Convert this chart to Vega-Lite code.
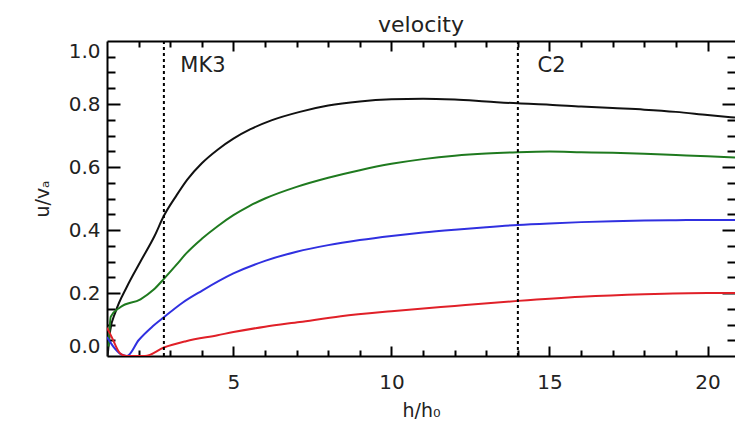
{
  "$schema": "https://vega.github.io/schema/vega-lite/v6.json",
  "width": 628,
  "height": 315,
  "autosize": "none",
  "padding": {"left": 107, "top": 41, "right": 0, "bottom": 69},
  "background": "white",
  "config": {
    "view": {"stroke": null},
    "axis": {
      "labelFont": "DejaVu Sans", "labelFontSize": 20, "labelColor": "#222",
      "titleFont": "DejaVu Sans", "titleFontSize": 19, "titleFontWeight": "normal", "titleColor": "#222",
      "domainColor": "#000", "domainWidth": 2, "tickColor": "#000", "tickWidth": 2, "grid": false
    }
  },
  "title": {"text": "velocity", "font": "DejaVu Sans", "fontSize": 22, "fontWeight": "normal", "color": "#222", "offset": 10, "baseline": "alphabetic", "dy": 24},
  "datasets": {
    "curves": [
      {"s": "black", "h": 1.02, "u": 0.0}, {"s": "black", "h": 1.1, "u": 0.08}, {"s": "black", "h": 1.27, "u": 0.14}, {"s": "black", "h": 1.63, "u": 0.22}, {"s": "black", "h": 2.06, "u": 0.3}, {"s": "black", "h": 2.5, "u": 0.38}, {"s": "black", "h": 2.8, "u": 0.445}, {"s": "black", "h": 3.2, "u": 0.51}, {"s": "black", "h": 3.54, "u": 0.56}, {"s": "black", "h": 4.0, "u": 0.612}, {"s": "black", "h": 4.5, "u": 0.655}, {"s": "black", "h": 5.0, "u": 0.69}, {"s": "black", "h": 5.54, "u": 0.72}, {"s": "black", "h": 6.2, "u": 0.748}, {"s": "black", "h": 7.1, "u": 0.775}, {"s": "black", "h": 8, "u": 0.795}, {"s": "black", "h": 9, "u": 0.808}, {"s": "black", "h": 10, "u": 0.815}, {"s": "black", "h": 11, "u": 0.817}, {"s": "black", "h": 12, "u": 0.814}, {"s": "black", "h": 13, "u": 0.808}, {"s": "black", "h": 14, "u": 0.802}, {"s": "black", "h": 15, "u": 0.798}, {"s": "black", "h": 16, "u": 0.792}, {"s": "black", "h": 17, "u": 0.787}, {"s": "black", "h": 18, "u": 0.782}, {"s": "black", "h": 19, "u": 0.775}, {"s": "black", "h": 20, "u": 0.765}, {"s": "black", "h": 20.87, "u": 0.757},
      {"s": "green", "h": 1.05, "u": 0.03}, {"s": "green", "h": 1.12, "u": 0.125}, {"s": "green", "h": 1.42, "u": 0.155}, {"s": "green", "h": 2.06, "u": 0.18}, {"s": "green", "h": 2.47, "u": 0.21}, {"s": "green", "h": 2.8, "u": 0.245}, {"s": "green", "h": 3.2, "u": 0.29}, {"s": "green", "h": 3.5, "u": 0.325}, {"s": "green", "h": 4.0, "u": 0.372}, {"s": "green", "h": 4.5, "u": 0.412}, {"s": "green", "h": 5.0, "u": 0.447}, {"s": "green", "h": 5.5, "u": 0.476}, {"s": "green", "h": 6.0, "u": 0.5}, {"s": "green", "h": 7.0, "u": 0.537}, {"s": "green", "h": 8, "u": 0.566}, {"s": "green", "h": 9, "u": 0.59}, {"s": "green", "h": 10, "u": 0.61}, {"s": "green", "h": 11, "u": 0.625}, {"s": "green", "h": 12, "u": 0.636}, {"s": "green", "h": 13, "u": 0.643}, {"s": "green", "h": 14, "u": 0.647}, {"s": "green", "h": 15, "u": 0.649}, {"s": "green", "h": 16, "u": 0.647}, {"s": "green", "h": 17, "u": 0.645}, {"s": "green", "h": 18, "u": 0.642}, {"s": "green", "h": 19, "u": 0.638}, {"s": "green", "h": 20, "u": 0.634}, {"s": "green", "h": 20.87, "u": 0.63},
      {"s": "blue", "h": 1.0, "u": 0.06}, {"s": "blue", "h": 1.2, "u": 0.03}, {"s": "blue", "h": 1.45, "u": 0.005}, {"s": "blue", "h": 1.63, "u": 0.0}, {"s": "blue", "h": 2.0, "u": 0.05}, {"s": "blue", "h": 2.4, "u": 0.09}, {"s": "blue", "h": 2.8, "u": 0.123}, {"s": "blue", "h": 3.4, "u": 0.17}, {"s": "blue", "h": 4.0, "u": 0.207}, {"s": "blue", "h": 5.0, "u": 0.262}, {"s": "blue", "h": 6.0, "u": 0.302}, {"s": "blue", "h": 7.0, "u": 0.331}, {"s": "blue", "h": 8.0, "u": 0.352}, {"s": "blue", "h": 9.0, "u": 0.368}, {"s": "blue", "h": 10, "u": 0.381}, {"s": "blue", "h": 11, "u": 0.392}, {"s": "blue", "h": 12, "u": 0.401}, {"s": "blue", "h": 13, "u": 0.409}, {"s": "blue", "h": 14, "u": 0.416}, {"s": "blue", "h": 15, "u": 0.421}, {"s": "blue", "h": 16, "u": 0.425}, {"s": "blue", "h": 17, "u": 0.428}, {"s": "blue", "h": 18, "u": 0.43}, {"s": "blue", "h": 19, "u": 0.431}, {"s": "blue", "h": 20, "u": 0.432}, {"s": "blue", "h": 20.87, "u": 0.432},
      {"s": "red", "h": 1.0, "u": 0.09}, {"s": "red", "h": 1.15, "u": 0.06}, {"s": "red", "h": 1.4, "u": 0.01}, {"s": "red", "h": 1.6, "u": 0.0}, {"s": "red", "h": 2.2, "u": 0.0}, {"s": "red", "h": 2.8, "u": 0.027}, {"s": "red", "h": 3.5, "u": 0.047}, {"s": "red", "h": 4.5, "u": 0.066}, {"s": "red", "h": 5.0, "u": 0.076}, {"s": "red", "h": 6.0, "u": 0.093}, {"s": "red", "h": 7.1, "u": 0.108}, {"s": "red", "h": 8.4, "u": 0.126}, {"s": "red", "h": 10, "u": 0.142}, {"s": "red", "h": 12, "u": 0.159}, {"s": "red", "h": 14, "u": 0.175}, {"s": "red", "h": 16, "u": 0.188}, {"s": "red", "h": 18, "u": 0.196}, {"s": "red", "h": 20, "u": 0.2}, {"s": "red", "h": 20.87, "u": 0.2}
    ],
    "marks": [
      {"h": 2.8, "label": "MK3", "lx": 3.32, "ly": 0.92},
      {"h": 14.0, "label": "C2", "lx": 14.62, "ly": 0.92}
    ]
  },
  "layer": [
    {
      "data": {"name": "curves"},
      "mark": {"type": "line", "strokeWidth": 2, "clip": true, "interpolate": "monotone"},
      "encoding": {
        "x": {"field": "h", "type": "quantitative", "scale": {"domain": [1, 20.87], "nice": false, "zero": false},
          "axis": {"orient": "bottom", "values": [5, 10, 15, 20], "ticks": false, "labelPadding": 16, "title": "h/h₀", "titlePadding": 9, "domain": true}},
        "y": {"field": "u", "type": "quantitative", "scale": {"domain": [0, 1], "nice": false, "zero": false},
          "axis": {"orient": "left", "values": [0, 0.2, 0.4, 0.6, 0.8, 1.0], "format": ".1f", "ticks": false, "labelPadding": 7, "labelFlush": true, "title": "u/vₐ", "titlePadding": 16, "domain": true}},
        "color": {"field": "s", "type": "nominal", "scale": {"domain": ["black", "green", "blue", "red"], "range": ["#111111", "#1f7a1f", "#3030e0", "#e02028"]}, "legend": null}
      }
    },
    {
      "data": {"name": "marks"},
      "mark": {"type": "rule", "color": "#000", "strokeWidth": 2, "strokeDash": [3, 3]},
      "encoding": {
        "x": {"field": "h", "type": "quantitative", "axis": {"orient": "bottom", "values": [5, 10, 15, 20], "tickSize": -10, "labels": false, "domain": false, "title": null}}
      }
    },
    {
      "data": {"name": "marks"},
      "mark": {"type": "text", "font": "DejaVu Sans", "fontSize": 21, "color": "#222", "align": "left", "baseline": "middle"},
      "encoding": {
        "x": {"field": "lx", "type": "quantitative", "axis": {"orient": "bottom", "values": [2, 3, 4, 6, 7, 8, 9, 11, 12, 13, 14, 16, 17, 18, 19], "tickSize": -6, "labels": false, "domain": false, "title": null}},
        "y": {"field": "ly", "type": "quantitative", "axis": {"orient": "left", "values": [0.2, 0.4, 0.6, 0.8], "tickSize": -13, "labels": false, "domain": false, "title": null}},
        "text": {"field": "label"}
      }
    },
    {
      "data": {"name": "curves"},
      "mark": {"type": "point", "opacity": 0},
      "encoding": {
        "x": {"field": "h", "type": "quantitative", "axis": {"orient": "top", "values": [5, 10, 15, 20], "tickSize": -10, "labels": false, "domain": true, "title": null}},
        "y": {"field": "u", "type": "quantitative", "axis": {"orient": "left", "values": [0.05, 0.1, 0.15, 0.25, 0.3, 0.35, 0.45, 0.5, 0.55, 0.65, 0.7, 0.75, 0.85, 0.9, 0.95], "tickSize": -8, "labels": false, "domain": false, "title": null}}
      }
    },
    {
      "data": {"name": "curves"},
      "mark": {"type": "point", "opacity": 0},
      "encoding": {
        "x": {"field": "h", "type": "quantitative", "axis": {"orient": "top", "values": [2, 3, 4, 6, 7, 8, 9, 11, 12, 13, 14, 16, 17, 18, 19], "tickSize": -6, "labels": false, "domain": false, "title": null}},
        "y": {"field": "u", "type": "quantitative", "axis": {"orient": "right", "values": [0.2, 0.4, 0.6, 0.8], "tickSize": -13, "labels": false, "domain": false, "title": null}}
      }
    },
    {
      "data": {"name": "curves"},
      "mark": {"type": "point", "opacity": 0},
      "encoding": {
        "x": {"field": "h", "type": "quantitative", "axis": null},
        "y": {"field": "u", "type": "quantitative", "axis": {"orient": "right", "values": [0.05, 0.1, 0.15, 0.25, 0.3, 0.35, 0.45, 0.5, 0.55, 0.65, 0.7, 0.75, 0.85, 0.9, 0.95], "tickSize": -8, "labels": false, "domain": false, "title": null}}
      }
    }
  ],
  "resolve": {"axis": {"x": "independent", "y": "independent"}}
}
